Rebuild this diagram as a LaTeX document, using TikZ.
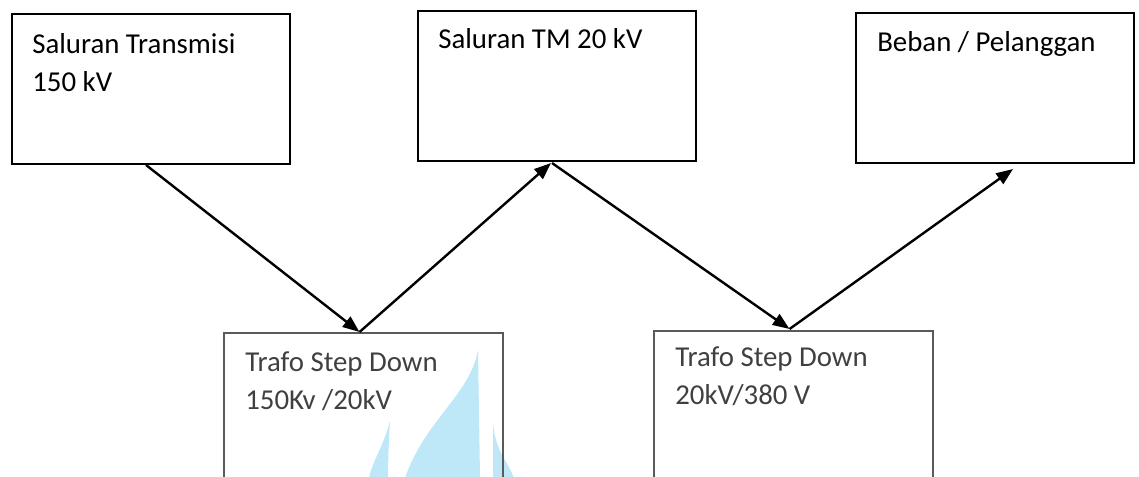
\documentclass[tikz,border=0pt]{standalone}
\usepackage{fontspec}
\setmainfont{Carlito}
\usepackage{tikz}
\usetikzlibrary{arrows.meta}
\usetikzlibrary{positioning}

\definecolor{teksabu}{HTML}{404040}
\definecolor{garisabu}{HTML}{5A5A5A}
\definecolor{birumuda}{HTML}{BEE8F8}

\tikzset{
  kotak/.style={draw, line width=0.05cm, color=black, inner sep=0.0cm,
                minimum width=6.95cm, minimum height=3.75cm, anchor=north west},
  teks/.style={anchor=base west, align=left, inner sep=0.0cm,
               font=\fontsize{20.5}{27.7}\selectfont},
  panah/.style={line width=0.06cm, -{Triangle[length=0.42cm, width=0.32cm]}}
}

\begin{document}
\begin{tikzpicture}[x=0.025cm, y=-0.025cm]

\clip (0,0) rectangle (1139,477);
\useasboundingbox (0,0) rectangle (1139,477);

% watermark
\fill[birumuda] (390,421) .. controls (384,445) and (372,462) .. (369,478)
  -- (388,478) .. controls (388,455) and (389,440) .. (390,421);
\fill[birumuda] (478,350) .. controls (470,395) and (425,420) .. (405,478)
  -- (480,478) -- (478,350);
\fill[birumuda] (493,423) .. controls (495,450) and (508,462) .. (514,478)
  -- (493,478) -- (493,423);

% kotak atas
\draw (11,13) node[kotak] (transmisi) {};
\draw (417,10) node[kotak] (tm) {};
\draw (855,12) node[kotak] (beban) {};

% kotak bawah
\draw (223,332) node[kotak, color=garisabu, minimum width=6.975cm] (trafoA) {};
\draw (653,330) node[kotak, color=garisabu, minimum width=6.975cm] (trafoB) {};

% teks (base = baris terakhir)
\draw ([shift={(21,79)}]transmisi.north west) node[teks] (tTransmisi)
  {Saluran Transmisi\\150 kV};
\draw ([shift={(21,39)}]tm.north west) node[teks] (tTm) {Saluran TM 20 kV};
\draw ([shift={(22,40)}]beban.north west) node[teks] (tBeban) {Beban / Pelanggan};
\draw ([shift={(22,78)}]trafoA.north west) node[teks, color=teksabu] (tTrafoA)
  {Trafo Step Down\\150Kv /20kV};
\draw ([shift={(22,75)}]trafoB.north west) node[teks, color=teksabu] (tTrafoB)
  {Trafo Step Down\\20kV/380 V};

% panah
\draw[panah] ([shift={(-5,0)}]transmisi.south) -- ([shift={(-4,0)}]trafoA.north);
\draw[panah] ([shift={(-4,0)}]trafoA.north) -- ([shift={(-6,1)}]tm.south);
\draw[panah] ([shift={(-5,1)}]tm.south) -- ([shift={(-4,-1)}]trafoB.north);
\draw[panah] ([shift={(-4,-1)}]trafoB.north) -- ([shift={(18,5)}]beban.south);

\end{tikzpicture}
\end{document}
